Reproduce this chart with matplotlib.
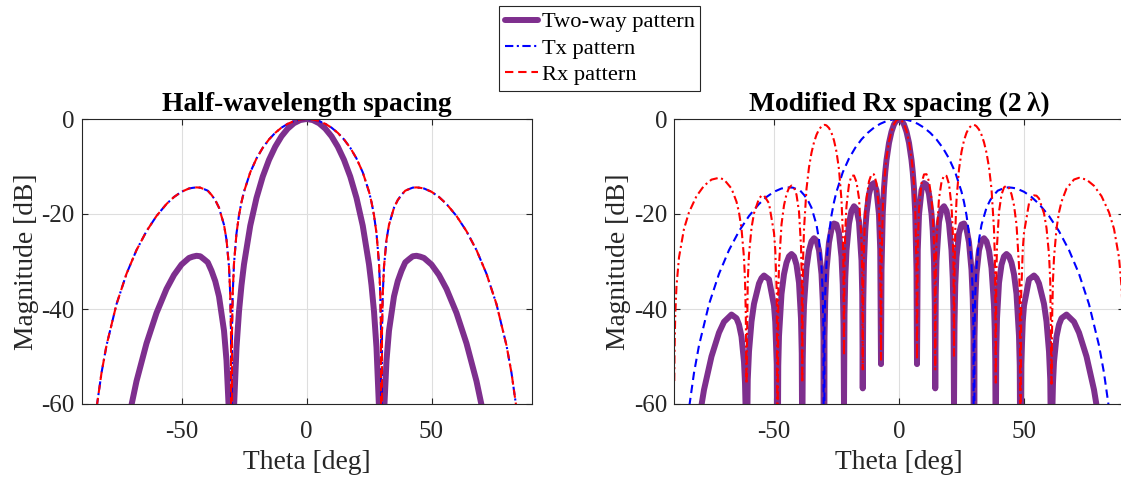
import numpy as np
import matplotlib
matplotlib.use("Agg")
import matplotlib.pyplot as plt

plt.rcParams['font.family'] = ['Liberation Serif', 'DejaVu Serif']
plt.rcParams['axes.unicode_minus'] = False
plt.rcParams['lines.scale_dashes'] = False

# patterns are symmetric, values read for theta >= 0 (deg, dB)
# half-wavelength Tx (also used for the Rx on the left plot)
theta_tx = [0, 2.5, 5, 7.5, 10, 12.5, 15, 17.5, 20, 22.5, 25, 26, 27, 28, 29, 29.5, 29.8,
            30, 30.2, 30.5, 31, 32, 33, 35, 36.5, 38, 39.5, 41, 42.5, 44, 45.5, 47, 50, 53,
            56, 60, 64, 68, 72, 76, 80, 82, 84, 86]
tx_db = [0, -0.11, -0.44, -1.01, -1.82, -2.91, -4.30, -6.06, -8.31, -11.23, -15.30, -17.49,
         -20.26, -24.07, -30.40, -36.58, -44.63, -120, -44.77, -36.91, -31.07, -25.42,
         -22.28, -18.67, -17.07, -15.97, -15.09, -14.76, -14.45, -14.40, -14.49, -14.63,
         -15.32, -16.42, -17.89, -20.42, -23.62, -27.60, -32.59, -38.99, -47.67, -53.45,
         -60.92, -71.5]
rx_half_db = [0, -0.11, -0.44, -1.01, -1.82, -2.91, -4.30, -6.06, -8.31, -11.23, -15.30, -17.49,
              -20.26, -24.07, -30.40, -36.58, -44.63, -120, -44.77, -36.91, -31.07, -25.42,
              -22.28, -18.67, -17.07, -15.97, -15.09, -14.76, -14.45, -14.40, -14.49, -14.63,
              -15.32, -16.42, -17.89, -20.42, -23.62, -27.60, -32.59, -38.99, -47.67, -53.45,
              -60.92, -71.5]
twoway_half_db = [0, -0.22, -0.88, -2.02, -3.64, -5.82, -8.60, -12.12, -16.62, -22.46, -30.60,
                  -34.98, -40.52, -48.14, -60.80, -73.16, -89.26, -240, -89.54, -73.82, -62.14,
                  -50.84, -44.56, -37.34, -34.14, -31.94, -30.18, -29.52, -28.90, -28.80,
                  -28.98, -29.26, -30.64, -32.84, -35.78, -40.84, -47.24, -55.20, -65.18,
                  -77.98, -95.34, -106.9, -121.84, -143]

# modified Rx spacing (2 lambda)
theta_mod = [0, 1, 2, 3, 4, 5, 5.5, 6, 6.5, 7, 7.2, 7.5, 8, 9, 10, 11, 12, 13, 13.5, 14, 14.3,
             14.5, 14.7, 15, 16, 17, 18, 19, 20, 21, 21.5, 21.8, 22, 22.2, 22.5, 23, 24, 25,
             26, 27, 28, 29, 29.5, 29.8, 30, 30.2, 30.5, 31, 32, 33, 34, 35, 36, 37, 38, 38.3,
             38.5, 38.7, 38.9, 39.2, 40, 41, 42, 43, 44, 45, 46, 47, 48, 48.3, 48.6, 48.9,
             49.5, 50, 52, 54, 55, 56, 58, 59, 60, 60.5, 61, 61.3, 61.6, 62, 63, 64, 65, 67,
             70, 72, 75, 78, 81, 84, 86, 88, 89, 89.5, 89.8, 89.9]
rx_mod_db = [0, -0.26, -1.08, -2.52, -4.76, -8.19, -10.64, -13.96, -19.09, -31.02, -50.67,
             -26.58, -18.97, -13.52, -11.67, -11.62, -13.12, -16.76, -20.10, -26.20, -34.77,
             -52.72, -32.84, -25.49, -16.70, -13.28, -11.90, -11.98, -13.70, -18.28, -23.58,
             -30.68, -49.84, -32.49, -23.62, -17.09, -10.59, -6.91, -4.51, -2.91, -1.90,
             -1.36, -1.26, -1.24, -1.25, -1.28, -1.34, -1.54, -2.22, -3.32, -4.91, -7.10,
             -10.17, -14.70, -23.23, -28.51, -35.12, -55.50, -33.94, -26.72, -19.50, -15.93,
             -14.41, -14.02, -14.51, -15.83, -18.18, -22.20, -30.83, -37.05, -66.7, -36.66,
             -27.52, -23.96, -17.76, -16.08, -16.15, -16.74, -19.85, -22.93, -28.51, -34.10,
             -55.73, -40.65, -33.89, -29.20, -23.07, -19.67, -17.41, -14.63, -12.74, -12.38,
             -12.76, -14.06, -16.24, -19.64, -23.13, -29.14, -35.16, -41.18, -49.14, -55.16]
# two-way on the right, read up to 84 deg (below -60 after that)
twoway_mod_db = [0, -0.28, -1.15, -2.68, -5.04, -8.63, -11.18, -14.60, -19.84, -31.91, -51.60,
                 -27.59, -20.12, -14.99, -13.49, -13.84, -15.79, -19.92, -23.52, -29.90,
                 -38.64, -56.71, -36.95, -29.79, -21.65, -18.95, -18.37, -19.32, -22.01,
                 -27.65, -33.53, -41.00, -60.41, -43.31, -34.85, -29.02, -24.08, -22.21,
                 -22.00, -23.17, -25.97, -31.76, -37.84, -45.87, -121, -46.05, -38.25,
                 -32.61, -27.64, -25.60, -25.10, -25.77, -27.70, -31.36, -39.20, -44.31,
                 -50.72, -71.00, -49.35, -42.01, -34.48, -30.69, -28.93, -28.42, -28.91,
                 -30.25, -32.68, -36.83, -45.64, -51.93, -81.65, -51.68, -42.70, -39.28,
                 -33.77, -32.95, -33.51, -34.63, -38.92, -42.65, -48.93, -54.87, -76.87,
                 -62.02, -55.5, -51.12, -45.82, -43.29, -41.95, -41.17, -42.70, -44.97,
                 -49.99, -57.01, -66.64, -80.56]


def mirror(theta, vals):
    # build -90..90 from the half pattern
    th = np.asarray(theta, dtype=float)
    v = np.asarray(vals, dtype=float)
    return np.concatenate([-th[:0:-1], th]), np.concatenate([v[:0:-1], v])


purple = '#7E2F8E'
dashed = (0, (6, 3.5))
dashdot = (0, (6, 2.5, 1.5, 2.5))
dark = '#262626'

fig = plt.figure(figsize=(11.21, 4.79), dpi=100)
ax1 = fig.add_axes([81.5 / 1121, 75 / 479, 450 / 1121, 285 / 479])
ax2 = fig.add_axes([674 / 1121, 75 / 479, 450 / 1121, 285 / 479])

x, y = mirror(theta_tx, twoway_half_db)
l1, = ax1.plot(x, y, color=purple, lw=4.3, solid_joinstyle='round', solid_capstyle='round')
x, y = mirror(theta_tx, tx_db)
l2, = ax1.plot(x, y, color='b', lw=1.5, ls=dashdot)
x, y = mirror(theta_tx, rx_half_db)
l3, = ax1.plot(x, y, color='r', lw=1.5, ls=dashed)

n2 = len(twoway_mod_db)
x, y = mirror(theta_mod[:n2], twoway_mod_db)
ax2.plot(x, y, color=purple, lw=4.3, solid_joinstyle='round', solid_capstyle='round')
x, y = mirror(theta_tx, tx_db)
ax2.plot(x, y, color='b', lw=1.5, ls=dashed)
x, y = mirror(theta_mod, rx_mod_db)
ax2.plot(x, y, color='r', lw=1.5, ls=dashdot)

titles = ['Half-wavelength spacing', 'Modified Rx spacing (2\u2009\u03bb)']
for ax, t in zip([ax1, ax2], titles):
    ax.set_xlim(-90, 90)
    ax.set_ylim(-60, 0)
    ax.set_xticks([-50, 0, 50])
    ax.set_yticks([-60, -40, -20, 0])
    ax.grid(True, color='#dedede', lw=0.8)
    ax.set_axisbelow(True)
    ax.tick_params(direction='in', top=True, right=True, length=4.5, width=0.8,
                   labelsize=18, colors=dark)
    ax.tick_params(axis='x', pad=12.5)
    ax.tick_params(axis='y', pad=5)
    for sp in ax.spines.values():
        sp.set_color(dark)
        sp.set_linewidth(0.8)
    ax.set_title(t, fontsize=19.8, fontweight='bold', pad=6, color='black')
    ax.set_xlabel('Theta [deg]', fontsize=19.8, color=dark, labelpad=5)
    ax.set_ylabel('Magnitude [dB]', fontsize=19.8, color=dark, labelpad=2)

leg = fig.legend([l1, l2, l3], ['Two-way pattern', 'Tx pattern', 'Rx pattern'],
                 loc='upper left', bbox_to_anchor=(499 / 1121, 1 - 6 / 479),
                 fontsize=16.2, frameon=True, fancybox=False, edgecolor=dark,
                 framealpha=1, borderpad=0.25, handlelength=1.5, handletextpad=0.15,
                 labelspacing=0.25, borderaxespad=0)
leg.get_frame().set_linewidth(0.8)

fig.savefig('out.png', dpi=100)
